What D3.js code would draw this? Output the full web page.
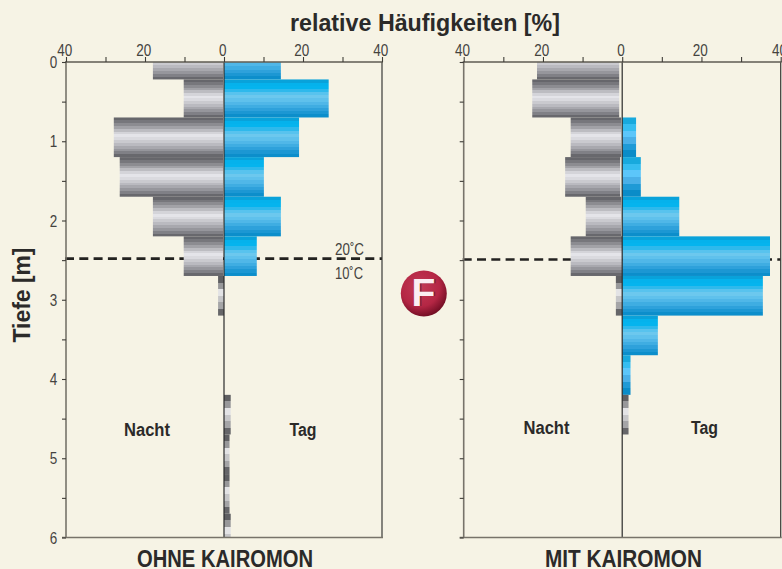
<!DOCTYPE html>
<html>
  <head>
    <title>Relative Häufigkeiten</title>
    <script src="https://d3js.org/d3.v7.min.js"></script>
    <style>
      html, body { margin: 0; padding: 0; width: 782px; height: 569px; overflow: hidden; background: #f6f3e5; }
      svg { display: block; }
      text { font-family: "Liberation Sans", sans-serif; fill: #2b2a29; }
      .bold { font-weight: bold; }
    </style>
  </head>
  <body>
    <svg id="chart" width="782" height="569"></svg>
    <script>
      // bar edges in metres, first and last bars are cut by the plot frame
      const depthEdges = [-0.28, 0.22, 0.7, 1.2, 1.7, 2.2, 2.7, 3.2, 3.7, 4.2, 4.7, 5.2, 5.7, 6.2];
      const depthTicks = [0, 0.5, 1, 1.5, 2, 2.5, 3, 3.5, 4, 4.5, 5, 5.5, 6];
      const depthLabels = [0, 1, 2, 3, 4, 5, 6];
      const pctTicks = [-40, -30, -20, -10, 0, 10, 20, 30, 40];
      const pctLabels = [-40, -20, 0, 20, 40];

      // ohne Kairomon
      const ohneNacht = [18, 10.2, 27.9, 26.4, 18, 10.2, 1.5, 0, 0, 0, 0, 0, 0];
      const ohneTag = [14.4, 26.5, 19, 10.1, 14.4, 8.3, 0, 0, 0, 0, 0, 0, 0];
      const ohneTagGrau = [0, 0, 0, 0, 0, 0, 0, 0, 0, 1.7, 1.4, 1.4, 1.7];

      // mit Kairomon
      const mitNacht = [21.5, 22.7, 13, 14.4, 9.2, 13, 1.6, 0, 0, 0, 0, 0, 0];
      const mitTag = [0, 0, 3.5, 4.7, 14.4, 37.3, 35.5, 9, 2.1, 0, 0, 0, 0];
      const mitTagGrau = [0, 0, 0, 0, 0, 0, 0, 0, 0, 1.6, 0, 0, 0];

      const greyBands = ["#66666b", "#77777c", "#8c8c91", "#a2a2a7", "#bcbcc1", "#d4d4d9", "#e4e4e9", "#dadadf", "#cacacf", "#babac0", "#a8a8ae", "#96969c", "#808086", "#68686d"];
      const blueBands = ["#09a2da", "#05b2ec", "#05b4ee", "#2eb9ec", "#58c3ee", "#6cc8ee", "#5fc1ec", "#50b7e8", "#3fade2", "#2ea1db", "#1c97d3", "#0c8ecb"];
      const greyBandsCoarse = ["#5f5f62", "#98989a", "#e3e3e5", "#c6c6c8", "#a5a5a7", "#666669"];
      const blueBandsCoarse = ["#18a9dd", "#36bdf0", "#5cc6fa", "#4ab0e8", "#1f9ad6", "#0a8cc8"];

      const svg = d3.select("#chart");
      const yDepth = d3.scaleLinear().domain([0, 6]).range([62, 537.5]);

      function addBandGradient(id, bands) {
        const grad = svg.append("defs").append("linearGradient")
          .attr("id", id).attr("x1", 0).attr("y1", 0).attr("x2", 0).attr("y2", 1);
        bands.forEach((c, i) => {
          grad.append("stop").attr("offset", i / bands.length).attr("stop-color", c);
          grad.append("stop").attr("offset", (i + 1) / bands.length).attr("stop-color", c);
        });
      }
      addBandGradient("grey", greyBands);
      addBandGradient("blue", blueBands);
      addBandGradient("greyCoarse", greyBandsCoarse);
      addBandGradient("blueCoarse", blueBandsCoarse);

      // the original type is condensed, no such font here so squeeze to the measured width
      function squeeze(sel, width) {
        return sel.attr("textLength", width).attr("lengthAdjust", "spacingAndGlyphs");
      }

      function drawPanel(id, x0, x1, series, gapNight, dashShift, showDepthLabels) {
        const x = d3.scaleLinear().domain([-40, 40]).range([x0, x1]);
        const g = svg.append("g");

        g.append("clipPath").attr("id", "clip" + id).append("rect")
          .attr("x", x0 - 10).attr("y", yDepth(0)).attr("width", x1 - x0 + 20).attr("height", yDepth(6) - yDepth(0));

        // 2.5 m line goes behind the bars
        g.append("line")
          .attr("x1", x0 - 1).attr("x2", x1)
          .attr("y1", yDepth(2.5) + dashShift).attr("y2", yDepth(2.5) + dashShift)
          .attr("stroke", "#232220").attr("stroke-width", 2.6).attr("stroke-dasharray", "9 5.3");

        const bars = g.append("g").attr("clip-path", `url(#clip${id})`);
        series.forEach(s => {
          bars.selectAll(null).data(s.values.map((v, i) => ({ v, i })).filter(d => d.v > 0)).enter().append("rect")
            .attr("x", d => s.side < 0 ? x(-d.v) : x(0))
            .attr("width", d => s.side < 0 ? x(0) - x(-d.v) - (gapNight[d.i] || 0) : x(d.v) - x(0))
            .attr("y", d => yDepth(depthEdges[d.i]))
            .attr("height", d => yDepth(depthEdges[d.i + 1]) - yDepth(depthEdges[d.i]))
            .attr("fill", d => `url(#${s.hue}${d.v < 6 ? "Coarse" : ""})`);
        });

        // frame
        g.append("line").attr("x1", x0).attr("x2", x0).attr("y1", yDepth(0)).attr("y2", yDepth(6))
          .attr("stroke", "#77736a").attr("stroke-width", 1.6);
        g.append("line").attr("x1", x1).attr("x2", x1).attr("y1", yDepth(0)).attr("y2", yDepth(6))
          .attr("stroke", "#3a3936").attr("stroke-width", 1.2);
        g.append("line").attr("x1", x(0)).attr("x2", x(0)).attr("y1", yDepth(0)).attr("y2", yDepth(6))
          .attr("stroke", "#2a2a2a").attr("stroke-width", 1.2);

        const top = g.append("g").attr("transform", `translate(0,${yDepth(0)})`)
          .call(d3.axisTop(x).tickValues(pctTicks).tickSize(5).tickFormat(""));
        top.select(".domain").attr("stroke", "#5e5b52").attr("stroke-width", 1.5).attr("d", `M${x0 - 1},0H${x1 + 1}`);
        top.selectAll(".tick line").attr("stroke", "#3f3d38").attr("stroke-width", 1.1);

        g.append("line").attr("x1", x0 - 4).attr("x2", x1 + 1)
          .attr("y1", yDepth(6)).attr("y2", yDepth(6)).attr("stroke", "#77736a").attr("stroke-width", 1.5);

        const left = g.append("g").attr("transform", `translate(${x0},0)`)
          .call(d3.axisLeft(yDepth).tickValues(depthTicks).tickSize(4).tickFormat(""));
        left.select(".domain").remove();
        left.selectAll(".tick line").attr("stroke", "#3f3d38").attr("stroke-width", 1.1);

        squeeze(g.selectAll(null).data(pctLabels).enter().append("text")
          .attr("x", d => x(d) - 1.3).attr("y", 55.5)
          .attr("text-anchor", "middle").attr("font-size", 16.5).style("fill", "#45433f")
          .text(d => Math.abs(d)), null)
          .attr("textLength", d => d === 0 ? 7.5 : 15);

        if (showDepthLabels) {
          squeeze(g.selectAll(null).data(depthLabels).enter().append("text")
            .attr("x", 53.5).attr("y", d => yDepth(d) + 6)
            .attr("text-anchor", "middle").attr("font-size", 16.5).style("fill", "#45433f")
            .text(d => d), 7.5);
        }
      }

      drawPanel("A", 66, 382, [
        { values: ohneNacht, side: -1, hue: "grey" },
        { values: ohneTag, side: 1, hue: "blue" },
        { values: ohneTagGrau, side: 1, hue: "grey" }
      ], [1, 1, 1, 1, 1, 1, 0], -1.5, true);

      drawPanel("B", 463.7, 780.7, [
        { values: mitNacht, side: -1, hue: "grey" },
        { values: mitTag, side: 1, hue: "blue" },
        { values: mitTagGrau, side: 1, hue: "grey" }
      ], [3, 3, 1, 2, 1, 0, 0], -0.6, false);

      // labels
      squeeze(svg.append("text").attr("class", "bold").attr("x", 425).attr("y", 31)
        .attr("text-anchor", "middle").attr("font-size", 24).text("relative Häufigkeiten [%]"), 270);
      squeeze(svg.append("text").attr("class", "bold").attr("transform", "translate(30,295) rotate(-90)")
        .attr("text-anchor", "middle").attr("font-size", 24).text("Tiefe [m]"), 95);
      squeeze(svg.append("text").attr("class", "bold").attr("x", 225).attr("y", 566.5)
        .attr("text-anchor", "middle").attr("font-size", 23.5).text("OHNE KAIROMON"), 176);
      squeeze(svg.append("text").attr("class", "bold").attr("x", 623.5).attr("y", 566.5)
        .attr("text-anchor", "middle").attr("font-size", 23.5).text("MIT KAIROMON"), 157);

      const panelNotes = [["Nacht", 147, 436, 46], ["Tag", 303, 436, 27], ["Nacht", 546.5, 434, 46], ["Tag", 704.5, 434, 27]];
      squeeze(svg.selectAll(null).data(panelNotes).enter().append("text")
        .attr("class", "bold").attr("x", d => d[1]).attr("y", d => d[2])
        .attr("text-anchor", "middle").attr("font-size", 17.5).text(d => d[0]), null)
        .attr("textLength", d => d[3]);

      const tempNotes = [["20˚C", 349.5, 254.5, 29], ["10˚C", 349, 278.5, 28]];
      squeeze(svg.selectAll(null).data(tempNotes).enter().append("text")
        .attr("x", d => d[1]).attr("y", d => d[2])
        .attr("text-anchor", "middle").attr("font-size", 16.5).style("fill", "#45433f").text(d => d[0]), null)
        .attr("textLength", d => d[3]);

      // F badge
      const badge = svg.append("defs").append("radialGradient").attr("id", "badgeGrad")
        .attr("cx", 0.42).attr("cy", 0.36).attr("r", 0.68);
      badge.append("stop").attr("offset", 0).attr("stop-color", "#c33a56");
      badge.append("stop").attr("offset", 0.62).attr("stop-color", "#b42644");
      badge.append("stop").attr("offset", 1).attr("stop-color", "#6a0a20");
      svg.append("circle").attr("cx", 423.8).attr("cy", 293.5).attr("r", 23).attr("fill", "url(#badgeGrad)");
      svg.append("text").attr("x", 425).attr("y", 306).attr("text-anchor", "middle")
        .attr("font-weight", "bold").attr("font-size", 39).style("fill", "#7e1c38").text("F");
      svg.append("text").attr("x", 423.5).attr("y", 305.5).attr("text-anchor", "middle")
        .attr("font-weight", "bold").attr("font-size", 39).style("fill", "#fbeef2").text("F");
    </script>
  </body>
</html>
